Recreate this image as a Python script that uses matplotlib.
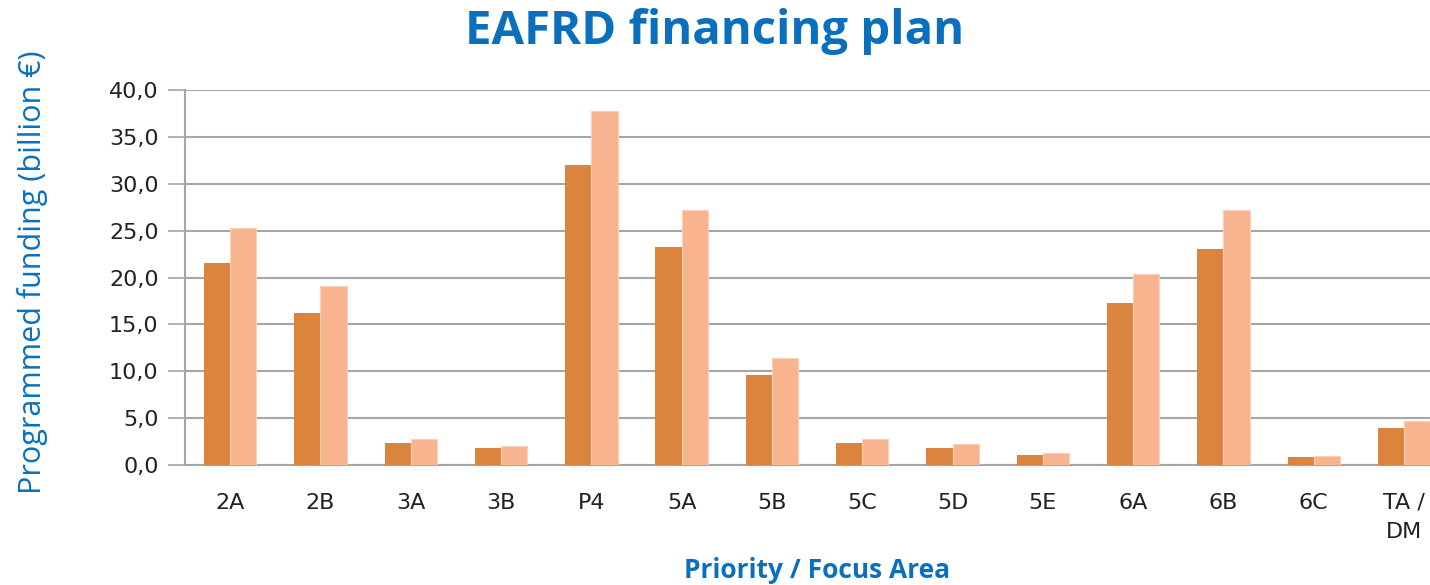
import matplotlib.pyplot as plt
import numpy as np

# Data
categories = ['2A', '2B', '3A', '3B', 'P4', '5A', '5B', '5C', '5D', '5E', '6A', '6B', '6C', 'TA /\nDM']
eafrd = [21.6, 16.2, 2.35, 1.8, 32.0, 23.25, 9.6, 2.35, 1.8, 1.1, 17.3, 23.1, 0.85, 3.95]
total = [25.3, 19.1, 2.8, 2.0, 37.8, 27.2, 11.4, 2.8, 2.2, 1.3, 20.4, 27.2, 1.0, 4.7]

blue = '#0a70be'
x = np.arange(len(categories))
w = 0.29

fig = plt.figure(figsize=(14.3, 5.85), dpi=100)
ax = fig.add_axes([0.1294, 0.205, 0.884, 0.641])

ax.bar(x - w / 2, eafrd, w, color='#db843e', zorder=3)
ax.bar(x + w / 2, total, w, color='#f8b48e', edgecolor='#fcd0b4', linewidth=0.8, zorder=3)

ax.set_xlim(-0.5, len(categories) - 0.5)
ax.set_ylim(0, 40)
ax.set_yticks(np.arange(0, 41, 5))
ax.set_yticklabels([f'{v:.1f}'.replace('.', ',') for v in np.arange(0, 41, 5)])
ax.set_xticks(x)
ax.set_xticklabels(categories, linespacing=1.6)

ax.grid(axis='y', color='#a6a6a6', linewidth=1.5, zorder=0)
for side in ['top', 'right']:
    ax.spines[side].set_visible(False)
for side in ['left', 'bottom']:
    ax.spines[side].set_color('#a6a6a6')
    ax.spines[side].set_linewidth(1.5)
ax.tick_params(axis='y', length=12, width=1.2, color='#a6a6a6', labelsize=16, labelcolor='#222222', pad=7)
ax.tick_params(axis='x', length=0, labelsize=16, labelcolor='#222222', pad=20)

# y label placed by hand, left of the tick labels as in the source
fig.text(0.023, 0.535, 'Programmed funding (billion €)', ha='center', va='center', rotation=90,
         color=blue, fontsize=22, family='Open Sans')
fig.text(0.5714, 0.024, 'Priority / Focus Area', ha='center', va='center', color=blue,
         fontsize=19, family='Open Sans', fontweight='bold')
fig.text(0.5, 0.946, 'EAFRD financing plan', ha='center', va='center', color=blue,
         fontsize=34, family='Open Sans', fontweight='bold')

fig.savefig('out.png', dpi=100)
